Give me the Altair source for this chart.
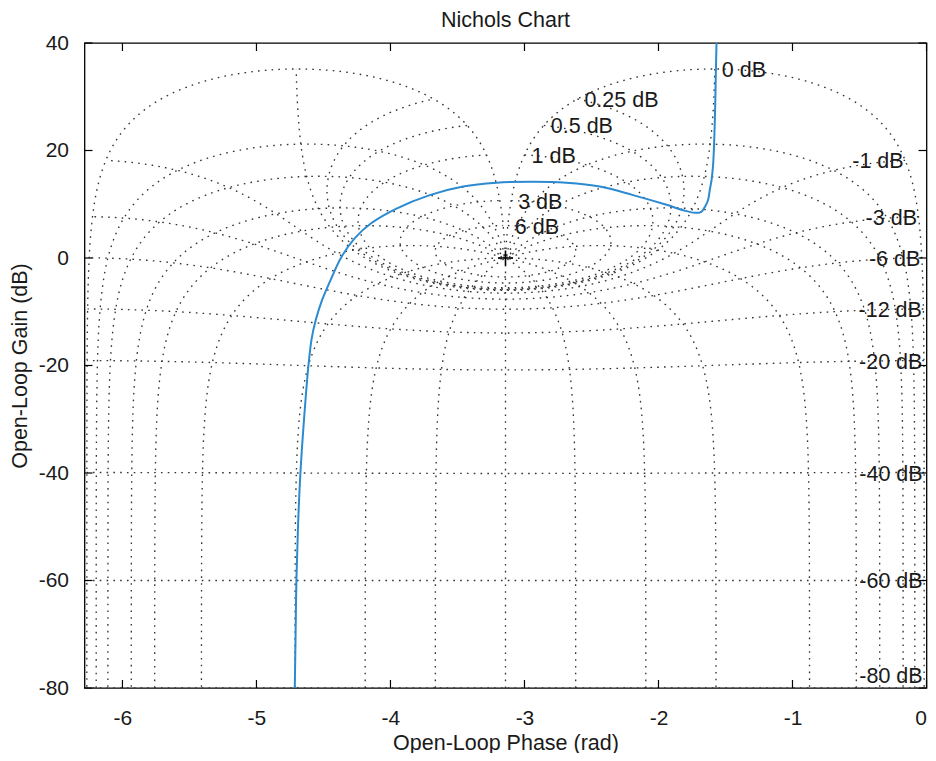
import numpy as np
import pandas as pd
import altair as alt

# ---- chart values ----
# closed-loop magnitude contours (dB) and closed-loop phase contours (deg)
m_levels_db = [6, 3, 1, 0.5, 0.25, 0, -1, -3, -6, -12, -20, -40, -60, -80]
n_levels_deg = [-1, -5, -10, -20, -30, -50, -90, -120, -150, -180]

x_ticks = [-6, -5, -4, -3, -2, -1, 0]
y_ticks = [-80, -60, -40, -20, 0, 20, 40]

# open-loop response (phase in rad, gain in dB)
curve_phase = [-4.714, -4.708, -4.702, -4.690, -4.672, -4.645, -4.612, -4.588, -4.557,
               -4.510, -4.447, -4.366, -4.266, -4.142, -3.955, -3.707, -3.458, -3.209,
               -2.936, -2.687, -2.438, -2.190, -1.940, -1.816, -1.729, -1.680, -1.654,
               -1.630, -1.617, -1.604, -1.592, -1.580, -1.572, -1.567]
curve_gain = [-80, -70, -60, -50, -40, -30, -20, -15, -11.5,
              -7.8, -4.1, 0.2, 3.7, 6.5, 9.2, 11.7, 13.3, 14.0,
              14.2, 14.0, 13.3, 11.7, 9.9, 8.9, 8.4, 8.6, 9.5,
              10.8, 12.7, 14.5, 17.5, 25.1, 34.4, 40.0]

crit_phase = [-np.pi]
crit_gain = [0.0]

# ---- geometry ----
X_MIN, X_MAX = -2 * np.pi, 0.0
Y_MIN, Y_MAX = -80, 40
W, H = 842, 645
sx = W / (X_MAX - X_MIN)
sy = H / (Y_MAX - Y_MIN)


def thin(ph, g, step=1.4):
    X = ph * sx
    Y = g * sy
    keep = [0]
    lx, ly = X[0], Y[0]
    n = len(X)
    for i in range(1, n):
        if (X[i] - lx) ** 2 + (Y[i] - ly) ** 2 >= step * step or i == n - 1:
            keep.append(i)
            lx, ly = X[i], Y[i]
    return ph[keep], g[keep]


rows = []
cid = 0

# M contours (constant closed-loop magnitude), closed-loop phase -1 .. -359 deg
alpha = np.deg2rad(np.linspace(-1, -359, 36000))
for mdb in m_levels_db:
    m = 10 ** (mdb / 20)
    T = m * np.exp(1j * alpha)
    G = T / (1 - T)
    ph = np.unwrap(np.angle(G))
    g = 20 * np.log10(np.abs(G))
    ph, g = thin(ph, g)
    for k, (p, v) in enumerate(zip(ph, g)):
        rows.append((cid, k, p, v))
    cid += 1

# N contours (constant closed-loop phase)
for adeg in n_levels_deg:
    a = np.deg2rad(adeg)
    if adeg == -180:
        pieces = [(np.array([-np.pi, -np.pi]), np.array([Y_MIN, 0.0]))]
    else:
        d = np.concatenate([np.geomspace(1e-9, 1e-2, 500),
                            np.linspace(1e-2, np.pi + a, 20000)[1:]])
        ph = a - d
        gl = np.sin(ph - a) / np.sin(a)
        g = 20 * np.log10(np.maximum(gl, 1e-12))
        msk = g >= Y_MIN
        ph, g = ph[msk], g[msk]
        pieces = [(ph, g), (-2 * np.pi - ph, g)]
    for pph, gg in pieces:
        pph, gg = thin(pph, gg)
        for k, (p, v) in enumerate(zip(pph, gg)):
            rows.append((cid, k, p, v))
        cid += 1

grid_df = pd.DataFrame(rows, columns=["cid", "k", "phase", "gain"])

# contour labels at closed-loop phase -1 deg
lab = []
for mdb in m_levels_db:
    m = 10 ** (mdb / 20)
    T = m * np.exp(1j * np.deg2rad(-1))
    G = T / (1 - T)
    lab.append({"text": f"{mdb:g} dB", "phase": float(np.angle(G)),
                "gain": float(max(20 * np.log10(abs(G)), Y_MIN + 2.5)),
                "pos": bool(mdb >= 0)})
lab_df = pd.DataFrame(lab)

curve_df = pd.DataFrame({"phase": curve_phase, "gain": curve_gain,
                         "k": range(len(curve_phase))})
crit_df = pd.DataFrame({"phase": crit_phase, "gain": crit_gain})
xt_df = pd.DataFrame({"phase": x_ticks})
yt_df = pd.DataFrame({"gain": y_ticks})

FONT = "Liberation Sans"
INK = "#1a1a1a"
LBL = "datum.value < 0 ? '-' + abs(datum.value) : '' + datum.value"
xs = alt.Scale(domain=[X_MIN, X_MAX], nice=False, zero=False)
ys = alt.Scale(domain=[Y_MIN, Y_MAX], nice=False, zero=False)
X = alt.X("phase:Q", scale=xs,
          axis=alt.Axis(values=x_ticks, title="Open-Loop Phase (rad)", labelExpr=LBL,
                        labelPadding=19, titlePadding=4))
Y = alt.Y("gain:Q", scale=ys,
          axis=alt.Axis(values=y_ticks, title="Open-Loop Gain (dB)", labelExpr=LBL,
                        labelPadding=16, titlePadding=7))

grid = alt.Chart(grid_df).mark_line(
    strokeDash=[1.6, 5.2], stroke="#333333", strokeWidth=1.35, clip=True
).encode(x=X, y=Y, detail="cid:N", order="k:Q")

curve = alt.Chart(curve_df).mark_line(
    color="#2b8ad0", strokeWidth=2, clip=True, interpolate="catmull-rom"
).encode(x=X, y=Y, order="k:Q")

crit = alt.Chart(crit_df).mark_point(
    shape="M-1,0H1M0,-1V1", size=225, stroke="black", strokeWidth=1.6,
    filled=False, opacity=1
).encode(x=X, y=Y)

lab_pos = alt.Chart(lab_df).transform_filter("datum.pos").mark_text(
    align="left", baseline="middle", dx=7, dy=2, font=FONT, fontSize=21.5, color=INK
).encode(x=X, y=Y, text="text:N")

lab_neg = alt.Chart(lab_df).transform_filter("!datum.pos").mark_text(
    align="right", baseline="middle", dx=-1.5, dy=2, font=FONT, fontSize=21.5, color=INK
).encode(x=X, y=Y, text="text:N")

TL = 8
tick_bottom = alt.Chart(xt_df).mark_rule(color="black", strokeWidth=1.2).encode(
    x=X, y=alt.value(H), y2=alt.value(H - TL))
tick_top = alt.Chart(xt_df).mark_rule(color="black", strokeWidth=1.2).encode(
    x=X, y=alt.value(0), y2=alt.value(TL))
tick_left = alt.Chart(yt_df).mark_rule(color="black", strokeWidth=1.2).encode(
    y=Y, x=alt.value(0), x2=alt.value(TL))
tick_right = alt.Chart(yt_df).mark_rule(color="black", strokeWidth=1.2).encode(
    y=Y, x=alt.value(W), x2=alt.value(W - TL))

chart = alt.layer(
    grid, lab_pos, lab_neg, curve, crit, tick_bottom, tick_top, tick_left, tick_right
).properties(
    width=W, height=H,
    title=alt.TitleParams("Nichols Chart", font=FONT, fontSize=21.5, fontWeight="normal",
                          color=INK, offset=1, frame="group"),
    padding={"left": 76.5, "top": 35, "right": 1, "bottom": 65},
    autosize=alt.AutoSizeParams(type="none"),
).configure_view(
    stroke="black", strokeWidth=1.3
).configure_axis(
    labelFont=FONT, titleFont=FONT, labelFontSize=21, titleFontSize=21.5,
    titleFontWeight="normal", labelColor=INK, titleColor=INK,
    ticks=False, domain=False, grid=False,
)

chart.save("out.html", embed_options={"renderer": "svg", "actions": False})
